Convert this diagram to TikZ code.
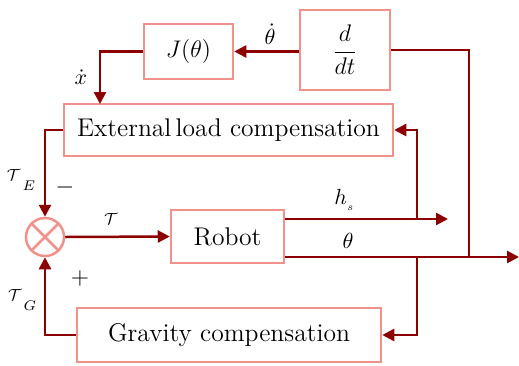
\documentclass[tikz,border=0pt]{standalone}
\usetikzlibrary{arrows.meta}
\definecolor{boxc}{HTML}{F1928A}
\definecolor{arrc}{HTML}{8B0000}
\newcommand{\calT}[1]{{\fontsize{8.5}{10}\selectfont$\mathcal{T}$}\kern1pt\raisebox{-5pt}{\fontsize{7.3}{8}\selectfont$#1$}}
\begin{document}
\begin{tikzpicture}[x=0.5pt,y=-0.5pt,
  blk/.style={draw=boxc,line width=1.25pt,fill=white,inner sep=0pt,font=\fontsize{12}{14}\selectfont},
  tblk/.style={blk,font=\fontsize{12.8}{15}\selectfont},
  arr/.style={draw=arrc,line width=1.25pt,-{Triangle[length=6pt,width=6pt]}},
  ln/.style={draw=arrc,line width=1.25pt},
  lbl/.style={font=\fontsize{10.5}{12}\selectfont,inner sep=0pt},
  sgn/.style={font=\fontsize{11.5}{12}\selectfont,inner sep=0pt}]
\useasboundingbox (0,0) rectangle (519,365);
\node[blk,minimum width=44.5pt,minimum height=27.5pt] (J) at (188.5,51.5) {$J(\theta)$};
\node[blk,minimum width=45pt,minimum height=40pt] (ddt) at (345,50) {$\displaystyle\frac{d}{dt}$};
\node[tblk,minimum width=164.5pt,minimum height=26pt] (ext) at (228.5,130) {External\,load compensation};
\node[tblk,minimum width=56.5pt,minimum height=26.5pt] (rob) at (227.5,236.5) {Robot};
\node[tblk,minimum width=152pt,minimum height=27pt] (grav) at (229,335) {Gravity compensation};
\node[draw=boxc,line width=1.25pt,circle,minimum size=19pt,inner sep=0pt] (sum) at (45,237) {};
\draw[boxc,line width=1.25pt] (sum.north west) -- (sum.south east) (sum.north east) -- (sum.south west);

\coordinate (hs) at (448,219);
\coordinate (out) at (519,257);
\coordinate (b1) at (417,219);
\coordinate (b2) at (417,257);
\coordinate (b3) at (469,257);
\coordinate (xd) at (100,104);

\draw[arr] (ddt.west |- J.east) -- (J.east);
\draw[arr] (J.west) -| (xd);
\draw[arr] (ext.west) -| (sum.north);
\draw[arr] (sum.east) -- (rob.west);
\draw[arr] (rob.east |- hs) -- (hs);
\draw[arr] (rob.east |- out) -- (out);
\draw[arr] (b1) |- (ext.east);
\draw[arr] (b2) |- (grav.east);
\draw[ln] (ddt.east) -| (b3);
\draw[arr] (grav.west) -| (sum.south);

\node[lbl] (lthd) at (270,34) {$\dot\theta$};
\node[lbl] (lxd) at (81,77) {$\dot x$};
\node[lbl] (ltE) at (21,180) {\calT{E}};
\node[sgn] (lmin) at (65,187) {$-$};
\node[lbl] (ltau) at (111,219) {{\fontsize{8.5}{10}\selectfont$\mathcal{T}$}};
\node[sgn] (lplus) at (80,278) {$+$};
\node[lbl] (ltG) at (22,300) {\calT{G}};
\node[lbl] (lhs) at (345,200) {$h_{_s}$};
\node[lbl] (lth) at (348,241) {$\theta$};
\end{tikzpicture}
\end{document}
